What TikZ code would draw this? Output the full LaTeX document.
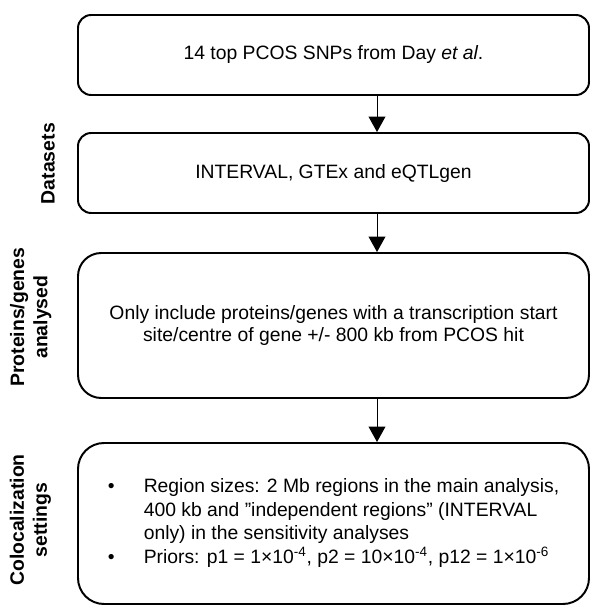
\documentclass[tikz,border=0pt]{standalone}
\usepackage{fontspec}
\setmainfont{Liberation Sans}
\usetikzlibrary{arrows.meta}

\begin{document}
\begin{tikzpicture}[font=\fontsize{13.75}{15.6}\selectfont,
        stepbox/.style={draw, rectangle, line width=1.4pt, minimum width=12.775cm, align=center, inner sep=0pt},
        flow/.style={-{Triangle[width=12pt,length=11pt]}, line width=0.7pt},
        sidelabel/.style={rotate=90, align=center, font=\fontsize{13.8}{16.5}\selectfont\bfseries}]
        \useasboundingbox (0, 0) rectangle (14.775, -15.125);

        % Boxes
        \node[stepbox, minimum height=2cm, rounded corners=0.33cm] (snps) at (8.3375, -1.375) {14 top PCOS SNPs from Day \textit{et al}.};
        \node[stepbox, minimum height=2cm, rounded corners=0.33cm] (data) at (8.3375, -4.325) {INTERVAL, GTEx and eQTLgen};
        \node[stepbox, minimum height=3.625cm, rounded corners=0.58cm] (genes) at (8.3375, -8.1375) {Only include proteins/genes with a transcription start\\site/centre of gene +/- 800 kb from PCOS hit};
        \node[stepbox, minimum height=4.025cm, rounded corners=0.65cm] (coloc) at (8.3375, -13.0875) {%
            \renewcommand{\arraystretch}{1.07}%
            \begin{tabular}{@{}p{0.9cm}@{}l@{}}
                \textbullet & Region sizes: 2 Mb regions in the main analysis,\\
                 & 400 kb and ”independent regions” (INTERVAL\\
                 & only) in the sensitivity analyses\\
                \textbullet & Priors: p1 = 1×10\textsuperscript{-4}, p2 = 10×10\textsuperscript{-4}, p12 = 1×10\textsuperscript{-6}
            \end{tabular}};

        % Side labels
        \node[sidelabel] (datalab) at (1.2, -4.09) {Datasets};
        \node[sidelabel] (geneslab) at (0.77, -7.93) {Proteins/genes\\analysed};
        \node[sidelabel] (coloclab) at (0.76, -13.0) {Colocalization\\settings};

        % Arrows
        \coordinate (axis) at (9.425, 0);
        \draw[flow] (snps.south -| axis) -- (data.north -| axis);
        \draw[flow] (data.south -| axis) -- (genes.north -| axis);
        \draw[flow] (genes.south -| axis) -- (coloc.north -| axis);
    \end{tikzpicture}
\end{document}
